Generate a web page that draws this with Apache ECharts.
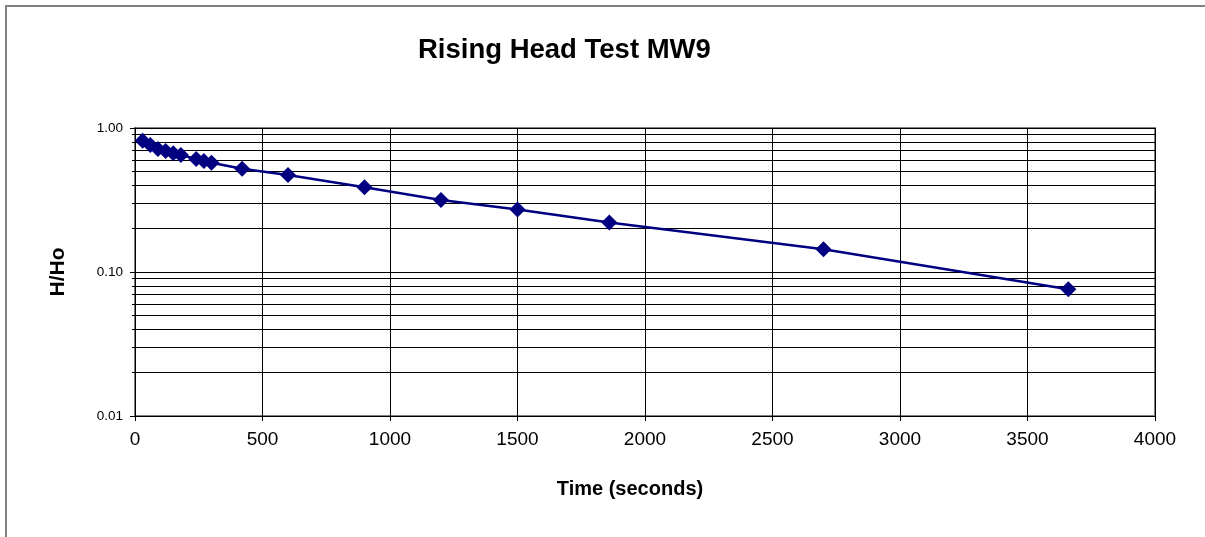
<!DOCTYPE html>
<html>
<head>
<meta charset="utf-8">
<script src="https://cdn.jsdelivr.net/npm/echarts@6/dist/echarts.min.js"></script>
<style>
  html, body { margin: 0; padding: 0; background: #fff; }
  #chart { width: 1205px; height: 537px; }
</style>
</head>
<body>
<div id="chart"></div>
<script>
// Rising head test readings for well MW9
const timeSeconds = [30, 60, 90, 120, 150, 180, 240, 270, 300, 420, 600, 900, 1200, 1500, 1860, 2700, 3660];
const headRatio   = [0.816, 0.762, 0.715, 0.692, 0.667, 0.649, 0.609, 0.590, 0.574, 0.521, 0.472, 0.388, 0.316, 0.272, 0.221, 0.144, 0.076];

// Intermediate log gridlines between decades
const minorLevels = [0.02, 0.03, 0.04, 0.05, 0.06, 0.07, 0.08, 0.09,
                     0.2, 0.3, 0.4, 0.5, 0.6, 0.7, 0.8, 0.9];

const chart = echarts.init(document.getElementById('chart'), null, { renderer: 'canvas' });
const FONT = '"Liberation Sans", Arial, sans-serif';

chart.setOption({
  animation: false,
  backgroundColor: '#ffffff',
  title: {
    text: 'Rising Head Test MW9',
    left: 413,
    top: 31,
    textStyle: { fontFamily: FONT, fontSize: 27.5, fontWeight: 'bold', color: '#000' }
  },
  graphic: [{
    type: 'rect',
    shape: { x: 6, y: 6, width: 1260, height: 600 },
    style: { fill: 'none', stroke: '#808080', lineWidth: 2 },
    silent: true, z: 0
  }],
  grid: {
    left: 135, right: 50, top: 128, bottom: 121,
    show: true, borderColor: '#808080', borderWidth: 2, backgroundColor: 'transparent'
  },
  xAxis: {
    type: 'value',
    min: 0, max: 4000, interval: 500,
    name: 'Time (seconds)',
    nameLocation: 'middle',
    nameGap: 63,
    nameTextStyle: { fontFamily: FONT, fontSize: 20, fontWeight: 'bold', color: '#000', padding: [0, 30, 0, 0] },
    axisLine: { show: true, lineStyle: { color: '#000', width: 1 } },
    axisTick: { show: true, inside: false, length: 5, lineStyle: { color: '#000' } },
    axisLabel: { fontFamily: FONT, fontSize: 19, color: '#000', margin: 14, formatter: v => String(v) },
    splitLine: { show: true, lineStyle: { color: '#000', width: 1 } }
  },
  yAxis: [{
    type: 'log',
    logBase: 10,
    min: 0.01, max: 1,
    name: 'H/Ho',
    nameLocation: 'middle',
    nameGap: 66,
    nameRotate: 90,
    nameTextStyle: { fontFamily: FONT, fontSize: 21, fontWeight: 'bold', color: '#000' },
    axisLine: { show: true, lineStyle: { color: '#000', width: 1 } },
    axisTick: { show: true, inside: false, length: 5, lineStyle: { color: '#000' } },
    axisLabel: {
      fontFamily: FONT, fontSize: 13.5, color: '#000', margin: 12,
      formatter: v => v.toFixed(2)
    },
    splitLine: { show: true, lineStyle: { color: '#000', width: 1 } }
  }, {
    // overlay axis carrying the short minor ticks on the left edge
    type: 'log',
    logBase: 10,
    min: 0.01, max: 1,
    position: 'left',
    axisLine: { show: false },
    axisTick: { show: true, inside: false, length: 3, customValues: minorLevels, lineStyle: { color: '#000' } },
    axisLabel: { show: false },
    splitLine: { show: false }
  }],
  series: [{
    type: 'line',
    yAxisIndex: 0,
    data: timeSeconds.map((t, i) => [t, headRatio[i]]),
    symbol: 'diamond',
    symbolSize: 16,
    showAllSymbol: true,
    lineStyle: { color: '#000080', width: 2.5 },
    itemStyle: { color: '#000080' },
    z: 5,
    markLine: {
      silent: true,
      symbol: 'none',
      label: { show: false },
      lineStyle: { color: '#000', width: 1, type: 'solid' },
      data: minorLevels.map(v => ({ yAxis: v }))
    }
  }]
});
</script>
</body>
</html>
